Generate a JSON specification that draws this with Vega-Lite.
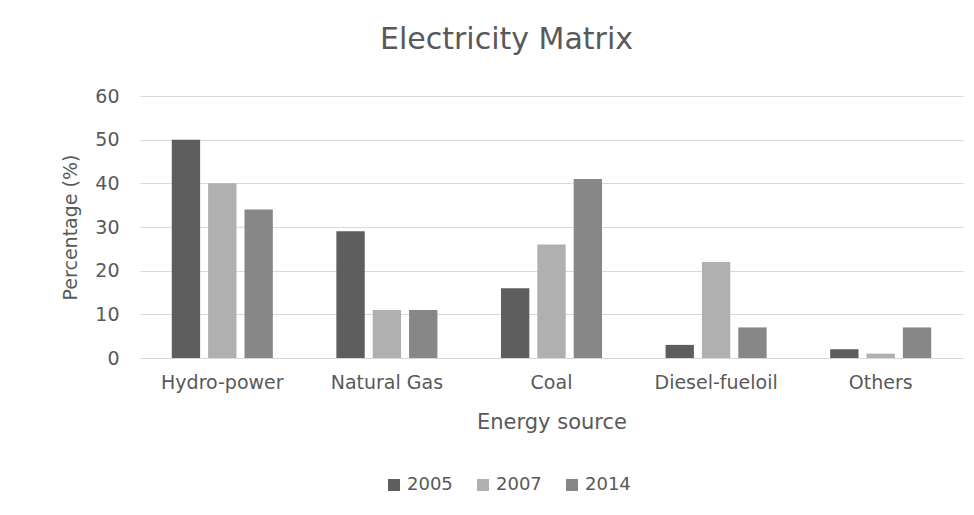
{
  "$schema": "https://vega.github.io/schema/vega-lite/v6.json",
  "width": 823,
  "height": 262,
  "autosize": {"type": "none"},
  "padding": {"left": 140, "top": 96, "right": 11, "bottom": 157},
  "background": "white",
  "title": {
    "text": "Electricity Matrix",
    "anchor": "middle",
    "frame": "group",
    "dx": -45,
    "offset": 32,
    "font": "DejaVu Sans",
    "fontSize": 30,
    "fontWeight": "normal",
    "color": "#595959"
  },
  "data": {
    "values": [
      {"source": "Hydro-power", "year": "2005", "pct": 50},
      {"source": "Hydro-power", "year": "2007", "pct": 40},
      {"source": "Hydro-power", "year": "2014", "pct": 34},
      {"source": "Natural Gas", "year": "2005", "pct": 29},
      {"source": "Natural Gas", "year": "2007", "pct": 11},
      {"source": "Natural Gas", "year": "2014", "pct": 11},
      {"source": "Coal", "year": "2005", "pct": 16},
      {"source": "Coal", "year": "2007", "pct": 26},
      {"source": "Coal", "year": "2014", "pct": 41},
      {"source": "Diesel-fueloil", "year": "2005", "pct": 3},
      {"source": "Diesel-fueloil", "year": "2007", "pct": 22},
      {"source": "Diesel-fueloil", "year": "2014", "pct": 7},
      {"source": "Others", "year": "2005", "pct": 2},
      {"source": "Others", "year": "2007", "pct": 1},
      {"source": "Others", "year": "2014", "pct": 7}
    ]
  },
  "mark": {"type": "bar"},
  "encoding": {
    "x": {
      "field": "source",
      "type": "nominal",
      "sort": ["Hydro-power", "Natural Gas", "Coal", "Diesel-fueloil", "Others"],
      "scale": {"paddingInner": 0.386, "paddingOuter": 0.193},
      "axis": {
        "title": "Energy source",
        "labelAngle": 0,
        "labelFont": "DejaVu Sans",
        "labelFontSize": 19,
        "labelColor": "#595959",
        "labelPadding": 15,
        "titleFont": "DejaVu Sans",
        "titleFontSize": 21,
        "titleFontWeight": "normal",
        "titleColor": "#595959",
        "titlePadding": 19,
        "ticks": false,
        "domain": true,
        "domainColor": "#d9d9d9",
        "grid": false
      }
    },
    "xOffset": {
      "field": "year",
      "type": "nominal",
      "scale": {"paddingInner": 0.22, "paddingOuter": 0}
    },
    "y": {
      "field": "pct",
      "type": "quantitative",
      "scale": {"domain": [0, 60]},
      "axis": {
        "title": "Percentage (%)",
        "values": [0, 10, 20, 30, 40, 50, 60],
        "labelFont": "DejaVu Sans",
        "labelFontSize": 19,
        "labelColor": "#595959",
        "labelPadding": 21,
        "titleFont": "DejaVu Sans",
        "titleFontSize": 19,
        "titleFontWeight": "normal",
        "titleColor": "#595959",
        "titlePadding": 14,
        "ticks": false,
        "domain": false,
        "grid": true,
        "gridColor": "#d9d9d9"
      }
    },
    "color": {
      "field": "year",
      "type": "nominal",
      "scale": {"domain": ["2005", "2007", "2014"], "range": ["#5e5e5e", "#b0b0b0", "#878787"]},
      "legend": {
        "title": null,
        "orient": "none",
        "legendX": 245,
        "legendY": 380,
        "direction": "horizontal",
        "symbolType": "square",
        "symbolSize": 144,
        "symbolStrokeWidth": 0,
        "symbolOffset": 0,
        "labelOffset": 4,
        "labelFont": "DejaVu Sans",
        "labelFontSize": 18,
        "labelColor": "#595959",
        "columnPadding": 21
      }
    }
  },
  "config": {"view": {"stroke": null}}
}
